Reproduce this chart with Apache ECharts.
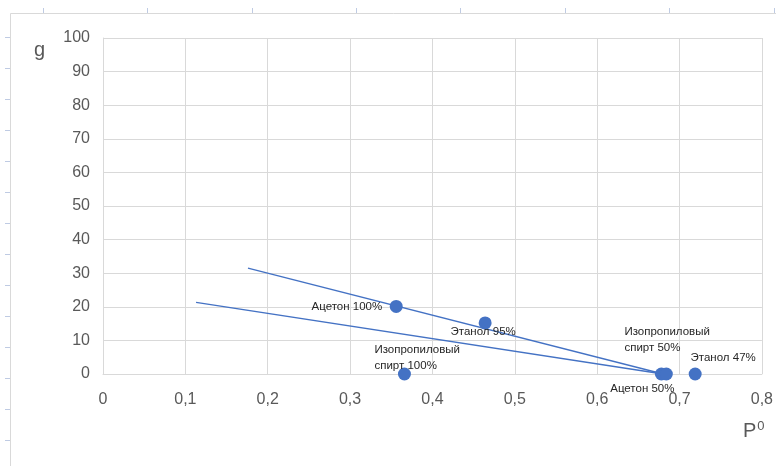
<!DOCTYPE html>
<html>
<head>
<meta charset="utf-8">
<script src="https://cdn.jsdelivr.net/npm/echarts@6/dist/echarts.min.js"></script>
<style>
  html, body { margin: 0; padding: 0; background: #ffffff; }
  #chart { width: 776px; height: 466px; }
</style>
</head>
<body>
<div id="chart"></div>
<script>
// Solvents: P⁰ on the horizontal axis, g on the vertical axis
const pointNames = ['Ацетон 100%', 'Этанол 95%', 'Изопропиловый\nспирт 100%', 'Изопропиловый\nспирт 50%', 'Ацетон 50%', 'Этанол 47%'];
const pValues = [0.356, 0.464, 0.366, 0.678, 0.684, 0.719];
const gValues = [20.1, 15.2, 0, 0, 0, 0];

// Two straight trend lines (start and end points)
const upperLineP = [0.176, 0.680];
const upperLineG = [31.5, 0];
const lowerLineP = [0.113, 0.680];
const lowerLineG = [21.3, 0];

// Axis ticks
const xTicks = [0, 0.1, 0.2, 0.3, 0.4, 0.5, 0.6, 0.7, 0.8];
const yTicks = [0, 10, 20, 30, 40, 50, 60, 70, 80, 90, 100];

// Where each data label sits relative to its marker
const labelPlacement = {
  'Ацетон 100%': { align: 'right', offset: [-14, 0] },
  'Этанол 95%': { align: 'center', offset: [-2, 9] },
  'Изопропиловый\nспирт 100%': { align: 'left', offset: [-30, -16] },
  'Изопропиловый\nспирт 50%': { align: 'left', offset: [-37, -34] },
  'Ацетон 50%': { align: 'center', offset: [-24, 15] },
  'Этанол 47%': { align: 'center', offset: [28, -16] }
};

const BLUE = '#4472C4';
const AXIS_TEXT = '#595959';
const GRID = '#d9d9d9';
const FONT = '"Liberation Sans", Arial, sans-serif';

const toPairs = (xs, ys) => xs.map((x, i) => [x, ys[i]]);

const scatterData = pValues.map((p, i) => {
  const name = pointNames[i];
  const place = labelPlacement[name];
  return {
    name: name,
    value: [p, gValues[i]],
    label: { align: place.align, offset: place.offset }
  };
});

// Sheet decorations around the chart frame
const decorations = [];
decorations.push({ type: 'line', shape: { x1: 10.5, y1: 13.5, x2: 776, y2: 13.5 }, style: { stroke: '#d9d9d9', lineWidth: 1 }, silent: true });
decorations.push({ type: 'line', shape: { x1: 10.5, y1: 13.5, x2: 10.5, y2: 466 }, style: { stroke: '#d9d9d9', lineWidth: 1 }, silent: true });
for (let k = 0; k < 8; k++) {
  const x = Math.round(42.7 + 104.4 * k) + 0.5;
  decorations.push({ type: 'line', shape: { x1: x, y1: 8, x2: x, y2: 13 }, style: { stroke: '#bfcbe3', lineWidth: 1 }, silent: true });
}
for (let k = 0; k < 14; k++) {
  const y = Math.round(36.7 + 31 * k) + 0.5;
  decorations.push({ type: 'line', shape: { x1: 5, y1: y, x2: 10, y2: y }, style: { stroke: '#bfcbe3', lineWidth: 1 }, silent: true });
}
decorations.push({
  type: 'text', left: 34, top: 40, silent: true,
  style: { text: 'g', fill: AXIS_TEXT, font: '20px ' + FONT }
});
decorations.push({
  type: 'text', left: 743, top: 420, silent: true,
  style: {
    text: '{p|P}{s|0}', fill: AXIS_TEXT,
    rich: {
      p: { fontSize: 20, fontFamily: FONT, fill: AXIS_TEXT, verticalAlign: 'bottom' },
      s: { fontSize: 13, fontFamily: FONT, fill: AXIS_TEXT, verticalAlign: 'top', padding: [0, 0, 8, 1] }
    }
  }
});

const chart = echarts.init(document.getElementById('chart'), null, { renderer: 'canvas' });
chart.setOption({
  animation: false,
  backgroundColor: '#ffffff',
  grid: { left: 103, right: 14, top: 38, bottom: 92, containLabel: false },
  xAxis: {
    type: 'value',
    min: xTicks[0],
    max: xTicks[xTicks.length - 1],
    interval: 0.1,
    axisLine: { show: true, lineStyle: { color: GRID, width: 1 } },
    axisTick: { show: false },
    splitLine: { show: true, lineStyle: { color: GRID, width: 1 } },
    axisLabel: {
      color: AXIS_TEXT, fontSize: 16, fontFamily: FONT, margin: 18,
      formatter: v => (v === 0 ? '0' : v.toFixed(1).replace('.', ','))
    }
  },
  yAxis: {
    type: 'value',
    min: yTicks[0],
    max: yTicks[yTicks.length - 1],
    interval: 10,
    axisLine: { show: true, lineStyle: { color: GRID, width: 1 } },
    axisTick: { show: false },
    splitLine: { show: true, lineStyle: { color: GRID, width: 1 } },
    axisLabel: { color: AXIS_TEXT, fontSize: 16, fontFamily: FONT, margin: 13 }
  },
  series: [
    {
      type: 'line', data: toPairs(upperLineP, upperLineG),
      showSymbol: false, symbol: 'none', z: 2,
      lineStyle: { color: BLUE, width: 1.3 }
    },
    {
      type: 'line', data: toPairs(lowerLineP, lowerLineG),
      showSymbol: false, symbol: 'none', z: 2,
      lineStyle: { color: BLUE, width: 1.3 }
    },
    {
      type: 'scatter', data: scatterData, symbol: 'circle', symbolSize: 13, z: 3,
      itemStyle: { color: BLUE, opacity: 1 },
      label: {
        show: true, position: 'inside', formatter: '{b}',
        color: '#262626', fontSize: 11.5, fontFamily: FONT, lineHeight: 16
      }
    }
  ],
  graphic: decorations
});
</script>
</body>
</html>
